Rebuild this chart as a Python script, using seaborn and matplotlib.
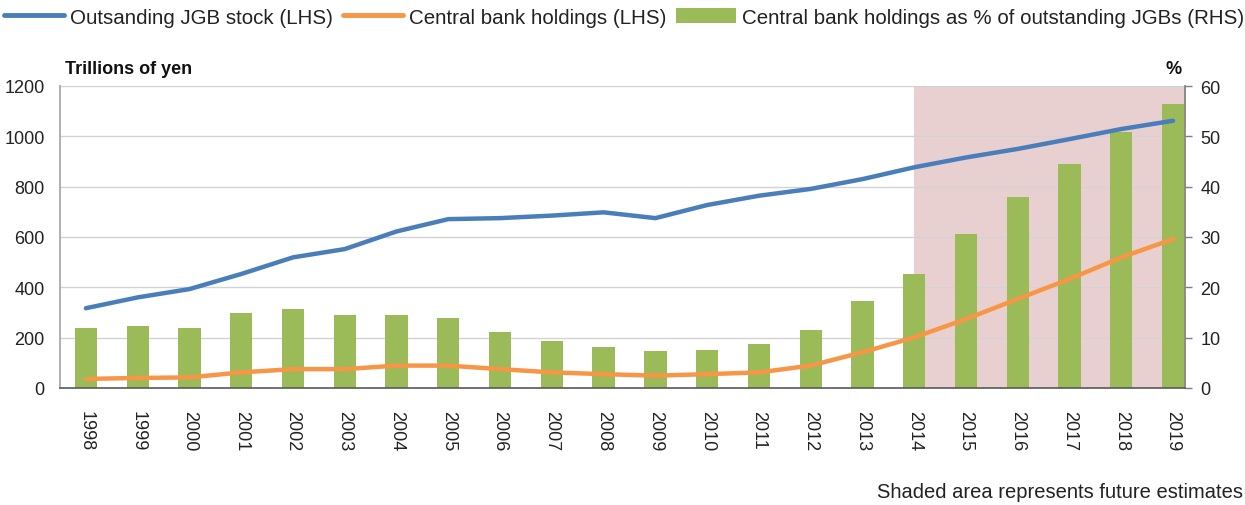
import matplotlib
matplotlib.use("Agg")
import matplotlib.pyplot as plt
import seaborn as sns
import pandas as pd
from matplotlib.lines import Line2D
from matplotlib.patches import Patch

years = [str(y) for y in range(1998, 2020)]
jgb_stock = [317, 360, 393, 453, 519, 552, 622, 671, 675, 685, 698, 675,
             727, 764, 791, 830, 877, 916, 950, 989, 1029, 1062]
cb_holdings = [36, 40, 42, 62, 75, 75, 89, 89, 75, 62, 55, 49,
               55, 62, 89, 142, 201, 274, 354, 433, 519, 592]
cb_share_pct = [11.9, 12.3, 11.9, 14.9, 15.7, 14.6, 14.6, 13.9, 11.2, 9.4, 8.1, 7.3,
                7.6, 8.7, 11.5, 17.3, 22.6, 30.6, 37.9, 44.6, 50.8, 56.4]
estimate_start = "2014"

legend_labels = ["Outsanding JGB stock (LHS)", "Central bank holdings (LHS)",
                 "Central bank holdings as % of outstanding JGBs (RHS)"]

BLUE = "#4A7EBB"
ORANGE = "#F79646"
GREEN = "#9BBB59"
SHADE = "#E9D0D0"

sns.set_theme(style="white")
plt.rcParams["font.family"] = ["Liberation Sans", "DejaVu Sans"]

df = pd.DataFrame({"year": years, "stock": jgb_stock, "cb": cb_holdings, "pct": cb_share_pct})
df["idx"] = range(len(df))

fig = plt.figure(figsize=(12.45, 5.06), dpi=100)
ax = fig.add_axes([60/1245, 1-389/506, 1125/1245, 302/506])
ax2 = ax.twinx()

# bars on right axis
sns.barplot(data=df, x="year", y="pct", color=GREEN, saturation=1, width=0.43,
            ax=ax2, zorder=2, linewidth=0, edgecolor="none")
start_i = years.index(estimate_start)
ax2.axvspan(start_i, 30, color=SHADE, zorder=0.2, lw=0)
ax2.set_ylim(0, 60)
ax2.set_yticks(range(0, 61, 10))
ax2.set_axisbelow(True)
ax2.yaxis.grid(True, color="#D3D3D3", lw=1)
ax2.set_ylabel("")
ax2.set_xlabel("")

# lines on left axis
sns.lineplot(data=df, x="idx", y="stock", color=BLUE, lw=3.2, ax=ax, zorder=3)
sns.lineplot(data=df, x="idx", y="cb", color=ORANGE, lw=3.2, ax=ax, zorder=3)
ax.set_zorder(ax2.get_zorder() + 1)
ax.patch.set_visible(False)
ax.set_ylim(0, 1200)
ax.set_yticks(range(0, 1201, 200))
ax.set_xlim(-0.5, 21.23)
ax.set_xticks(range(len(years)))
ax.set_xticklabels(years, rotation=270, fontsize=13, color="#222222")
ax.set_xlabel("")
ax.set_ylabel("")
ax.tick_params(axis="x", length=0, pad=16)
ax.tick_params(axis="y", length=0, labelsize=13, labelcolor="#222222", pad=11)
ax2.tick_params(axis="y", length=5, width=1, color="#808080", direction="out",
                labelsize=13, labelcolor="#222222", pad=6, right=True)

for a in (ax, ax2):
    for s in a.spines.values():
        s.set_visible(False)
ax.spines["left"].set_visible(True)
ax.spines["left"].set_color("#A6A6A6")
ax.spines["bottom"].set_visible(True)
ax.spines["bottom"].set_color("#595959")
ax.spines["bottom"].set_linewidth(1.2)
ax2.spines["right"].set_visible(True)
ax2.spines["right"].set_color("#808080")

fig.text(65/1245, 1-70/506, "Trillions of yen", fontsize=13, fontweight="bold",
         va="center", ha="left", color="#111111")
fig.text(1182/1245, 1-70/506, "%", fontsize=13, fontweight="bold",
         va="center", ha="right", color="#111111")
fig.text(1243/1245, 1-493/506, "Shaded area represents future estimates", fontsize=14.5,
         va="center", ha="right", color="#222222")

handles = [Line2D([], [], color=BLUE, lw=3.5),
           Line2D([], [], color=ORANGE, lw=3.5),
           Patch(facecolor=GREEN, edgecolor="none")]
fig.legend(handles, legend_labels, loc="center left", bbox_to_anchor=(4/1245, 1-18/506),
           ncol=3, frameon=False, fontsize=14.8, handlelength=2.9, handletextpad=0.3,
           columnspacing=0.5, borderaxespad=0, borderpad=0, labelcolor="#222222")

fig.savefig("out.png", dpi=100, facecolor="white")
